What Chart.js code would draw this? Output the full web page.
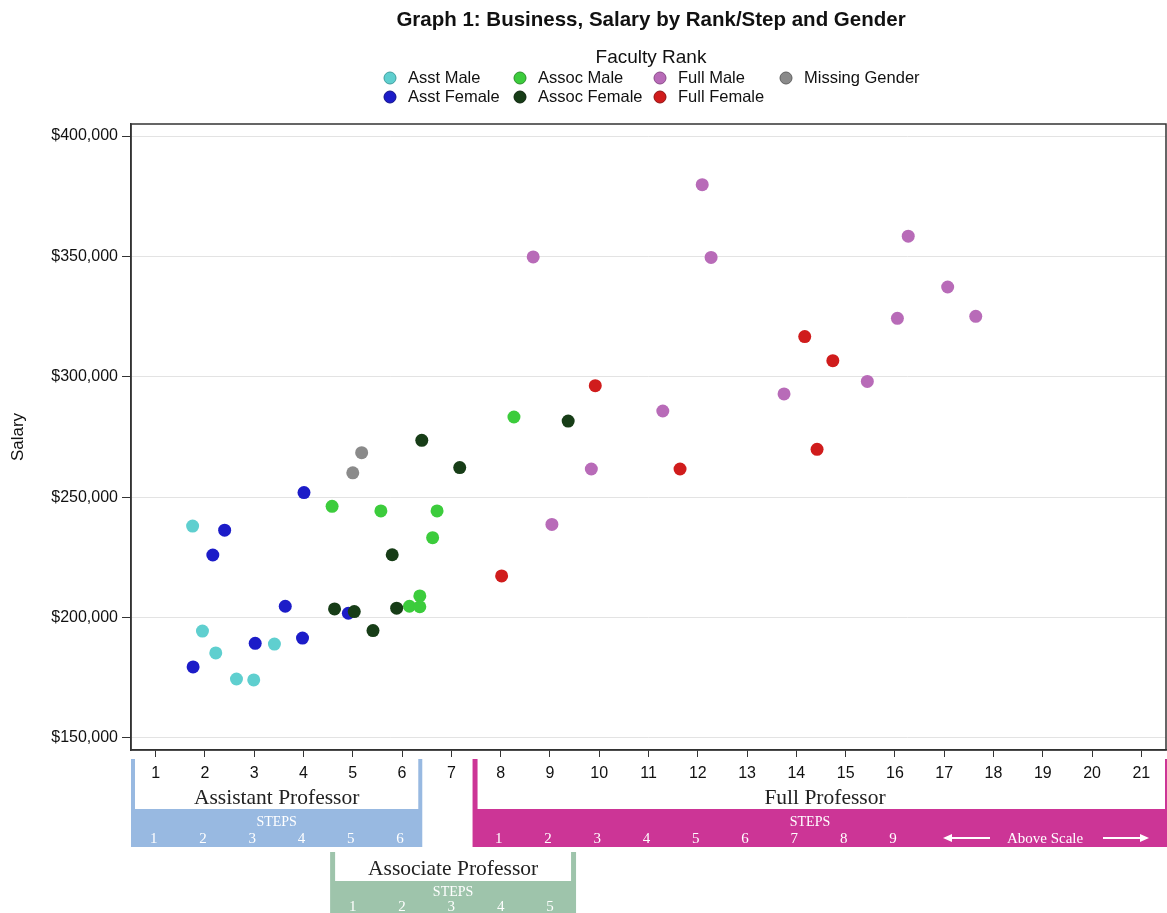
<!DOCTYPE html>
<html>
<head>
<meta charset="utf-8">
<script src="https://cdn.jsdelivr.net/npm/chart.js@4"></script>
<style>
  html, body { margin: 0; padding: 0; background: #fff; }
  canvas { display: block; }
</style>
</head>
<body>
<canvas id="chart" width="1167" height="913"></canvas>
<script>
// Step position (x) and salary (y), one pair of arrays per group
const asstMaleStep = [1.75, 1.95, 2.22, 2.64, 2.99, 3.41];
const asstMaleSalary = [238000, 194400, 185300, 174500, 174100, 189000];

const asstFemaleStep = [1.76, 2.16, 2.40, 3.02, 3.63, 3.98, 4.01, 4.91];
const asstFemaleSalary = [179500, 226000, 236300, 189300, 204700, 191500, 251900, 201800];

const assocMaleStep = [4.58, 5.57, 6.71, 6.62, 6.36, 6.15, 6.36, 8.27];
const assocMaleSalary = [246200, 244300, 244300, 233200, 209000, 204700, 204500, 283300];

const assocFemaleStep = [4.63, 5.03, 5.41, 5.89, 5.80, 6.40, 7.17, 9.37];
const assocFemaleSalary = [203600, 202500, 194600, 203900, 226100, 273600, 262300, 281600];

const fullMaleStep = [8.66, 9.04, 9.84, 11.29, 12.09, 12.27, 13.75, 15.44, 16.05, 16.27, 17.07, 17.64];
const fullMaleSalary = [349800, 238700, 261700, 285800, 379800, 349600, 292900, 298100, 324300, 358400, 337300, 325100];

const fullFemaleStep = [8.02, 9.92, 11.64, 14.17, 14.42, 14.74];
const fullFemaleSalary = [217300, 296300, 261700, 316700, 269900, 306700];

const missingStep = [5.00, 5.18];
const missingSalary = [260100, 268500];

const xTicks = [1, 2, 3, 4, 5, 6, 7, 8, 9, 10, 11, 12, 13, 14, 15, 16, 17, 18, 19, 20, 21];
const yTicks = [150000, 200000, 250000, 300000, 350000, 400000];

const asstSteps = ['1', '2', '3', '4', '5', '6'];
const assocSteps = ['1', '2', '3', '4', '5'];
const fullSteps = ['1', '2', '3', '4', '5', '6', '7', '8', '9'];

const SANS = '"Liberation Sans", Arial, sans-serif';
const SERIF = '"Liberation Serif", "DejaVu Serif", serif';

const groups = [
    { label: 'Asst Male', x: asstMaleStep, y: asstMaleSalary, color: '#5fcfcf', edge: '#3f9f9f' },
    { label: 'Asst Female', x: asstFemaleStep, y: asstFemaleSalary, color: '#1c1cc8', edge: '#10108a' },
    { label: 'Assoc Male', x: assocMaleStep, y: assocMaleSalary, color: '#3ccc3c', edge: '#2a8f2a' },
    { label: 'Assoc Female', x: assocFemaleStep, y: assocFemaleSalary, color: '#173d17', edge: '#0c220c', order: 0 },
    { label: 'Full Male', x: fullMaleStep, y: fullMaleSalary, color: '#b86bb8', edge: '#8a4a8a' },
    { label: 'Full Female', x: fullFemaleStep, y: fullFemaleSalary, color: '#d01c1c', edge: '#901010' },
    { label: 'Missing Gender', x: missingStep, y: missingSalary, color: '#8a8a8a', edge: '#606060' },
];

// legend slots: [marker x, row]
const legendSlots = {
    'Asst Male': [390, 0], 'Asst Female': [390, 1],
    'Assoc Male': [520, 0], 'Assoc Female': [520, 1],
    'Full Male': [660, 0], 'Full Female': [660, 1],
    'Missing Gender': [786, 0],
};

const datasets = groups.map((g) => ({
    label: g.label,
    data: g.x.map((v, i) => ({ x: v, y: g.y[i] })),
    backgroundColor: g.color,
    borderColor: g.color,
    borderWidth: 0,
    pointRadius: 6.5,
    order: g.order === undefined ? 1 : g.order,
}));

function bracket(ctx, x0, x1, top, inner, bottom, color, bar) {
    ctx.fillStyle = color;
    ctx.fillRect(x0, top, x1 - x0, bottom - top);
    ctx.fillStyle = '#fff';
    ctx.fillRect(x0 + bar, top, x1 - x0 - 2 * bar, inner - top);
}

function text(ctx, str, x, y, font, color, align) {
    ctx.font = font;
    ctx.fillStyle = color;
    ctx.textAlign = align || 'center';
    ctx.textBaseline = 'middle';
    ctx.fillText(str, x, y);
}

function arrow(ctx, x0, x1, y, dir) {
    ctx.strokeStyle = '#fff';
    ctx.fillStyle = '#fff';
    ctx.lineWidth = 2;
    ctx.beginPath();
    ctx.moveTo(x0, y);
    ctx.lineTo(x1, y);
    ctx.stroke();
    const tip = dir > 0 ? x1 : x0;
    ctx.beginPath();
    ctx.moveTo(tip + dir * 2, y);
    ctx.lineTo(tip - dir * 7, y - 4);
    ctx.lineTo(tip - dir * 7, y + 4);
    ctx.closePath();
    ctx.fill();
}

const decor = {
    id: 'decor',
    beforeDraw(chart) {
        const ctx = chart.ctx;
        const px = (v) => chart.scales.x.getPixelForValue(v);
        ctx.save();
        ctx.fillStyle = '#fff';
        ctx.fillRect(0, 0, chart.width, chart.height);

        // title + legend
        text(ctx, 'Graph 1: Business, Salary by Rank/Step and Gender', 651, 20, 'bold 20.5px ' + SANS, '#111');
        text(ctx, 'Faculty Rank', 651, 58, '19px ' + SANS, '#111');
        groups.forEach((g) => {
            const [mx, row] = legendSlots[g.label];
            const my = 78 + row * 19;
            ctx.beginPath();
            ctx.arc(mx, my, 6, 0, Math.PI * 2);
            ctx.fillStyle = g.color;
            ctx.fill();
            ctx.lineWidth = 1;
            ctx.strokeStyle = g.edge;
            ctx.stroke();
            text(ctx, g.label, mx + 18, my, '16.5px ' + SANS, '#111', 'left');
        });

        // rank brackets under the step axis
        bracket(ctx, px(0.5), px(6.41), 759, 809, 847, '#98b9e1', 4);
        text(ctx, 'Assistant Professor', (px(0.5) + px(6.41)) / 2, 798, '21.5px ' + SERIF, '#222');
        text(ctx, 'STEPS', (px(0.5) + px(6.41)) / 2, 822, '14px ' + SERIF, '#fff');
        asstSteps.forEach((s, i) => text(ctx, s, px(i + 1) - 2, 839, '15px ' + SERIF, '#fff'));

        bracket(ctx, px(7.43), px(21.5) + 4, 759, 809, 847, '#cc3596', 5);
        text(ctx, 'Full Professor', 825, 798, '21.5px ' + SERIF, '#222');
        text(ctx, 'STEPS', 810, 822, '14px ' + SERIF, '#fff');
        fullSteps.forEach((s, i) => text(ctx, s, px(i + 8) - 2, 839, '15px ' + SERIF, '#fff'));
        arrow(ctx, 945, 990, 838, -1);
        text(ctx, 'Above Scale', 1045, 839, '15px ' + SERIF, '#fff');
        arrow(ctx, 1103, 1147, 838, 1);

        bracket(ctx, px(4.54), px(9.53), 852, 881, 913, '#9ec4ab', 5);
        text(ctx, 'Associate Professor', (px(4.54) + px(9.53)) / 2, 869, '21.5px ' + SERIF, '#222');
        text(ctx, 'STEPS', (px(4.54) + px(9.53)) / 2, 892, '14px ' + SERIF, '#fff');
        assocSteps.forEach((s, i) => text(ctx, s, px(i + 5), 907, '15px ' + SERIF, '#fff'));
        ctx.restore();
    },
    beforeDatasetsDraw(chart) {
        const { ctx, chartArea: a } = chart;
        ctx.save();
        ctx.strokeStyle = '#333';
        ctx.lineWidth = 1.5;
        ctx.strokeRect(a.left, a.top, a.right - a.left, a.bottom - a.top);
        ctx.restore();
    },
};

new Chart(document.getElementById('chart'), {
    type: 'scatter',
    data: { datasets },
    options: {
        responsive: false,
        animation: false,
        layout: { autoPadding: false, padding: { top: 124, right: 1, left: 0, bottom: 0 } },
        plugins: {
            legend: { display: false },
            title: { display: false },
            tooltip: { enabled: false },
        },
        scales: {
            x: {
                type: 'linear',
                min: 0.5,
                max: 21.5,
                afterBuildTicks: (s) => { s.ticks = xTicks.map((v) => ({ value: v })); },
                afterFit: (s) => { s.height = 163; },
                grid: { drawOnChartArea: false, tickLength: 7, tickColor: '#333' },
                border: { display: true, color: '#333', width: 1.5 },
                ticks: {
                    autoSkip: false,
                    maxRotation: 0,
                    padding: 7,
                    color: '#111',
                    font: { family: SANS, size: 16 },
                },
            },
            y: {
                type: 'linear',
                min: 145000,
                max: 405000,
                afterBuildTicks: (s) => { s.ticks = yTicks.map((v) => ({ value: v })); },
                afterFit: (s) => { s.width = 131; },
                grid: { color: '#e3e3e3', tickLength: 9, tickColor: '#333' },
                border: { display: true, color: '#333', width: 1.5 },
                ticks: {
                    padding: 4,
                    color: '#111',
                    font: { family: SANS, size: 16 },
                    callback: (v) => '$' + v.toLocaleString('en-US'),
                },
                title: {
                    display: true,
                    text: 'Salary',
                    color: '#111',
                    font: { family: SANS, size: 17 },
                    padding: { top: 8, bottom: 0 },
                },
            },
        },
    },
    plugins: [decor],
});
</script>
</body>
</html>
